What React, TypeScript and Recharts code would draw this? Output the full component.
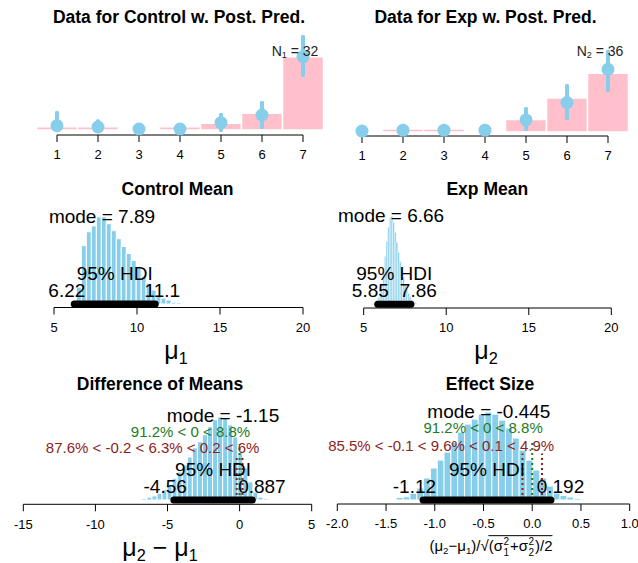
import React from 'react';
import {
  ComposedChart,
  Bar,
  Scatter,
  ErrorBar,
  XAxis,
  YAxis,
  ReferenceLine,
  ReferenceDot,
} from 'recharts';

// colours / fonts
const FONT = '"Liberation Sans", Arial, sans-serif';
const SKY = '#87CEEB';
const PINK = '#FFC0CB';
const GREEN = '#1e7b1e';
const RED = '#8b1e1e';

// ---- raw data: response levels 1..7
const levels = [1, 2, 3, 4, 5, 6, 7];
const controlCounts = [1, 1, 0, 1, 2, 5, 22];
const controlPred = [1.3, 0.9, 0.3, 0.3, 2.2, 4.5, 22.0];
const controlPredLo = [0, 0, 0, 0, 0, 0.9, 16.5];
const controlPredHi = [5.1, 2.6, 1.5, 1.5, 4.5, 8.1, 27.9];

const expCounts = [0, 1, 1, 0, 4, 11, 19];
const expPred = [0.3, 0.6, 0.6, 0.6, 3.9, 9.5, 20.3];
const expPredLo = [0, 0, 0, 0, 1.0, 4.5, 13.6];
const expPredHi = [1.5, 2.0, 2.0, 2.0, 7.4, 14.9, 26.0];

// ---- posterior of mu1 (control mean)
const mu1Bins = [6.2, 6.5, 6.8, 7.1, 7.4, 7.7, 8.0, 8.3, 8.6, 8.9, 9.2, 9.5, 9.8, 10.1, 10.4, 10.7, 11.0, 11.3, 11.6, 11.9, 12.2, 12.5];
const mu1Density = [0.01, 0.063, 0.218, 0.27, 0.292, 0.326, 0.326, 0.3, 0.274, 0.244, 0.215, 0.189, 0.163, 0.133, 0.104, 0.078, 0.052, 0.033, 0.022, 0.015, 0.007, 0.005];
const mu1Mode = 7.89;
const mu1Hdi = [6.22, 11.1];

// ---- posterior of mu2 (exp mean)
const mu2Bins = [5.5, 5.6, 5.7, 5.8, 5.9, 6.0, 6.1, 6.2, 6.3, 6.4, 6.5, 6.6, 6.7, 6.8, 6.9, 7.0, 7.1, 7.2, 7.3, 7.4, 7.5, 7.6, 7.7, 7.8, 7.9, 8.0, 8.1, 8.2];
const mu2Density = [0.006, 0.011, 0.023, 0.046, 0.08, 0.137, 0.228, 0.364, 0.546, 0.717, 0.876, 0.99, 1.0, 0.933, 0.819, 0.706, 0.592, 0.489, 0.387, 0.307, 0.228, 0.171, 0.125, 0.091, 0.057, 0.034, 0.023, 0.011];
const mu2Mode = 6.66;
const mu2Hdi = [5.85, 7.86];

// ---- difference of means
const diffBins = [-6.6, -6.25, -5.9, -5.55, -5.2, -4.85, -4.5, -4.15, -3.8, -3.45, -3.1, -2.75, -2.4, -2.05, -1.7, -1.35, -1.0, -0.65, -0.3, 0.05, 0.4, 0.75, 1.1, 1.45, 1.8];
const diffDensity = [0.005, 0.009, 0.013, 0.021, 0.032, 0.047, 0.068, 0.088, 0.11, 0.135, 0.164, 0.183, 0.205, 0.23, 0.252, 0.261, 0.258, 0.236, 0.198, 0.148, 0.101, 0.057, 0.025, 0.009, 0.005];
const diffMode = -1.15;
const diffHdi = [-4.56, 0.887];
const diffComp = [91.2, 8.8];
const diffRope = [-0.2, 0.2];
const diffRopePct = [87.6, 6.3, 6];

// ---- effect size
const effBins = [-1.36, -1.29, -1.22, -1.15, -1.08, -1.01, -0.94, -0.87, -0.8, -0.73, -0.66, -0.59, -0.52, -0.45, -0.38, -0.31, -0.24, -0.17, -0.1, -0.03, 0.04, 0.11, 0.18, 0.25, 0.32, 0.39, 0.46];
const effDensity = [0.035, 0.043, 0.087, 0.156, 0.287, 0.417, 0.521, 0.625, 0.756, 0.886, 0.99, 1.055, 1.12, 1.147, 1.12, 1.042, 0.938, 0.808, 0.651, 0.521, 0.391, 0.287, 0.182, 0.091, 0.059, 0.039, 0.022];
const effMode = -0.445;
const effHdi = [-1.12, 0.192];
const effComp = [91.2, 8.8];
const effRope = [-0.1, 0.1];
const effRopePct = [85.5, 9.6, 4.9];

// axis ticks
const meanTicks = [5, 10, 15, 20];
const diffTicks = [-15, -10, -5, 0, 5];
const effTicks = [-2, -1.5, -1, -0.5, 0, 0.5, 1];

const W = 638;
const H = 563;
const XH = 30;

type Box = { left: number; right: number; top: number; axisY: number };
const margins = (b: Box) => ({ left: b.left, right: W - b.right, top: b.top, bottom: H - b.axisY - XH });

// text width via canvas, used for R-style "adj" placement
let measureCtx: CanvasRenderingContext2D | null = null;
const measure = (s: string, size: number) => {
  if (!measureCtx) measureCtx = document.createElement('canvas').getContext('2d');
  if (!measureCtx) return s.length * size * 0.55;
  measureCtx.font = `${size}px "Liberation Sans"`;
  return measureCtx.measureText(s).width;
};

const note = (text: string, adj: number, dy: number, size: number, color = '#000') => (p: any) => {
  const vb = p.viewBox || { x: 0, y: 0, width: 0, height: 0 };
  const cx = vb.x + (vb.width || 0) / 2;
  const cy = vb.y + (vb.height || 0) / 2;
  const w = measure(text, size);
  return (
    <text x={cx - adj * w} y={cy + dy} fontSize={size} fontFamily={FONT} fill={color}>
      {text}
    </text>
  );
};

const axisProps = {
  type: 'number' as const,
  dataKey: 'x',
  interval: 0 as const,
  tickSize: 7,
  tickMargin: 8,
  height: XH,
  axisLine: { stroke: '#000' },
  tickLine: { stroke: '#000' },
  tick: { fontSize: 13, fill: '#000', fontFamily: FONT },
};

const predDot = (p: any) => <circle cx={p.cx} cy={p.cy} r={6.5} fill={SKY} />;

function CountPanel({ box, counts, pred, lo, hi, yDomain }: any) {
  const rows = levels.map((x, i) => ({
    x,
    count: counts[i],
    pred: pred[i],
    err: [pred[i] - lo[i], hi[i] - pred[i]],
  }));
  return (
    <div style={{ position: 'absolute', left: 0, top: 0 }}>
      <ComposedChart width={W} height={H} data={rows} margin={margins(box)} barCategoryGap={0} barGap={0}>
        <XAxis {...axisProps} domain={[1, 7]} ticks={levels} />
        <YAxis hide type="number" domain={yDomain} />
        <Bar dataKey="count" fill={PINK} stroke="#fff" strokeWidth={1.5} isAnimationActive={false} />
        <Scatter dataKey="pred" fill={SKY} shape={predDot} isAnimationActive={false}>
          <ErrorBar
            dataKey="err"
            direction="y"
            width={0}
            stroke={SKY}
            strokeWidth={4}
            strokeLinecap="round"
            isAnimationActive={false}
          />
        </Scatter>
      </ComposedChart>
    </div>
  );
}

function PostPanel({ box, bins, density, xDomain, ticks, yDomain, mode, hdi, comp, rope, ropePct, fmt, barStroke }: any) {
  const rows = bins.map((x: number, i: number) => ({ x, d: density[i] }));
  const maxD = Math.max(...density);
  const extra: any[] = [];
  if (comp) {
    extra.push(
      <ReferenceLine
        key="cv"
        segment={[{ x: 0, y: 0 }, { x: 0, y: 0.96 * 0.7 * maxD }]}
        stroke={GREEN}
        strokeWidth={2}
        strokeDasharray="2 3"
        ifOverflow="visible"
      />,
      <ReferenceDot
        key="cvt"
        x={0}
        y={0.7 * maxD}
        r={0}
        fill="none"
        stroke="none"
        ifOverflow="visible"
        label={note(`${comp[0]}% < 0 < ${comp[1]}%`, comp[0] / 100, -5, 15, GREEN)}
      />
    );
  }
  if (rope) {
    const txt = `${ropePct[0]}% < ${rope[0]} < ${ropePct[1]}% < ${rope[1]} < ${ropePct[2]}%`;
    extra.push(
      ...rope.map((r: number, i: number) => (
        <ReferenceLine
          key={`rope${i}`}
          segment={[{ x: r, y: 0 }, { x: r, y: 0.96 * 0.55 * maxD }]}
          stroke={RED}
          strokeWidth={2}
          strokeDasharray="2 3"
          ifOverflow="visible"
        />
      )),
      <ReferenceDot
        key="ropet"
        x={(rope[0] + rope[1]) / 2}
        y={0.55 * maxD}
        r={0}
        fill="none"
        stroke="none"
        ifOverflow="visible"
        label={note(txt, (ropePct[0] + ropePct[1] / 2) / 100, -1, 15, RED)}
      />
    );
  }
  return (
    <div style={{ position: 'absolute', left: 0, top: 0 }}>
      <ComposedChart width={W} height={H} data={rows} margin={margins(box)} barCategoryGap={0} barGap={0}>
        <XAxis {...axisProps} domain={xDomain} ticks={ticks} tickFormatter={fmt} />
        <YAxis hide type="number" domain={yDomain} />
        <Bar dataKey="d" fill={SKY} stroke="#fff" strokeWidth={barStroke} isAnimationActive={false} />
        {extra}
        <ReferenceLine
          segment={[{ x: hdi[0], y: 0 }, { x: hdi[1], y: 0 }]}
          stroke="#000"
          strokeWidth={7}
          strokeLinecap="round"
          ifOverflow="visible"
        />
        <ReferenceDot x={mode} y={0.9 * maxD} r={0} fill="none" stroke="none" ifOverflow="visible"
          label={note(`mode = ${mode}`, 0.5, -3, 19)} />
        <ReferenceDot x={(hdi[0] + hdi[1]) / 2} y={0} r={0} fill="none" stroke="none" ifOverflow="visible"
          label={note('95% HDI', 0.5, -24.5, 19)} />
        <ReferenceDot x={hdi[0]} y={0} r={0} fill="none" stroke="none" ifOverflow="visible"
          label={note(String(hdi[0]), 0.7, -7, 19)} />
        <ReferenceDot x={hdi[1]} y={0} r={0} fill="none" stroke="none" ifOverflow="visible"
          label={note(String(hdi[1]), 0.3, -7, 19)} />
      </ComposedChart>
    </div>
  );
}

const Txt = ({ x, y, size, bold, color = '#000', children }: any) => (
  <div
    style={{
      position: 'absolute',
      left: x,
      top: y,
      transform: 'translate(-50%, -50%)',
      fontSize: size,
      fontWeight: bold ? 700 : 400,
      lineHeight: 1,
      whiteSpace: 'nowrap',
      fontFamily: FONT,
      color,
    }}
  >
    {children}
  </div>
);

const Sub = ({ children, size = 0.65 }: any) => (
  <span style={{ fontSize: `${size}em`, verticalAlign: '-0.3em' }}>{children}</span>
);

// stacked superscript/subscript (sigma squared with index)
const SupSub = ({ sup, sub }: any) => (
  <span style={{ display: 'inline-block', position: 'relative', width: 7, height: 14, verticalAlign: -3 }}>
    <span style={{ position: 'absolute', left: 0.5, top: -3, fontSize: 10, lineHeight: '10px' }}>{sup}</span>
    <span style={{ position: 'absolute', left: 0.5, top: 8, fontSize: 10, lineHeight: '10px' }}>{sub}</span>
  </span>
);

export default function App() {
  return (
    <div style={{ position: 'absolute', left: 0, top: 0, width: W, height: H, background: '#fff', overflow: 'hidden', fontFamily: FONT }}>
      <CountPanel box={{ left: 57, right: 303, top: 30, axisY: 135 }} counts={controlCounts}
        pred={controlPred} lo={controlPredLo} hi={controlPredHi} yDomain={[-1.5, 30]} />
      <CountPanel box={{ left: 362, right: 608, top: 30, axisY: 136 }} counts={expCounts}
        pred={expPred} lo={expPredLo} hi={expPredHi} yDomain={[-1.3, 33]} />

      <PostPanel box={{ left: 54, right: 303, top: 205, axisY: 307.5 }} bins={mu1Bins} density={mu1Density}
        xDomain={[5, 20]} ticks={meanTicks} yDomain={[-0.013, 0.37]} mode={mu1Mode} hdi={mu1Hdi} barStroke={1} />
      <PostPanel box={{ left: 363.7, right: 611.3, top: 205, axisY: 308 }} bins={mu2Bins} density={mu2Density}
        xDomain={[5, 20]} ticks={meanTicks} yDomain={[-0.042, 1.128]} mode={mu2Mode} hdi={mu2Hdi} barStroke={0.6} />

      <PostPanel box={{ left: 23.3, right: 311.7, top: 400, axisY: 504.3 }} bins={diffBins} density={diffDensity}
        xDomain={[-15, 5]} ticks={diffTicks} yDomain={[-0.0135, 0.314]} mode={diffMode} hdi={diffHdi}
        comp={diffComp} rope={diffRope} ropePct={diffRopePct} barStroke={1} />
      <PostPanel box={{ left: 337.3, right: 629.7, top: 400, axisY: 504 }} bins={effBins} density={effDensity}
        xDomain={[-2, 1]} ticks={effTicks} yDomain={[-0.052, 1.304]} mode={effMode} hdi={effHdi}
        comp={effComp} rope={effRope} ropePct={effRopePct} barStroke={1} fmt={(v: number) => v.toFixed(1)} />

      {/* titles */}
      <Txt x={179} y={18} size={17.5} bold>Data for Control w. Post. Pred.</Txt>
      <Txt x={485.5} y={18} size={17.5} bold>Data for Exp w. Post. Pred.</Txt>
      <Txt x={177.5} y={190} size={17.5} bold>Control Mean</Txt>
      <Txt x={487.3} y={190} size={17.5} bold>Exp Mean</Txt>
      <Txt x={160} y={385} size={17.5} bold>Difference of Means</Txt>
      <Txt x={490} y={385} size={17.5} bold>Effect Size</Txt>

      {/* sample sizes */}
      <Txt x={295} y={52} size={14} color="#222">N<Sub>1</Sub> = 32</Txt>
      <Txt x={600} y={52} size={14} color="#222">N<Sub>2</Sub> = 36</Txt>

      {/* axis labels */}
      <Txt x={176} y={352} size={25}>μ<Sub>1</Sub></Txt>
      <Txt x={486} y={352} size={25}>μ<Sub>2</Sub></Txt>
      <Txt x={160} y={549} size={25}>μ<Sub>2</Sub> − μ<Sub>1</Sub></Txt>
      <Txt x={491} y={547} size={15}>
        (μ<Sub>2</Sub>−μ<Sub>1</Sub>)/√<span style={{ borderTop: '1px solid #000', paddingTop: 1 }}>(σ<SupSub sup="2" sub="1" />+σ<SupSub sup="2" sub="2" />)/2</span>
      </Txt>
    </div>
  );
}
